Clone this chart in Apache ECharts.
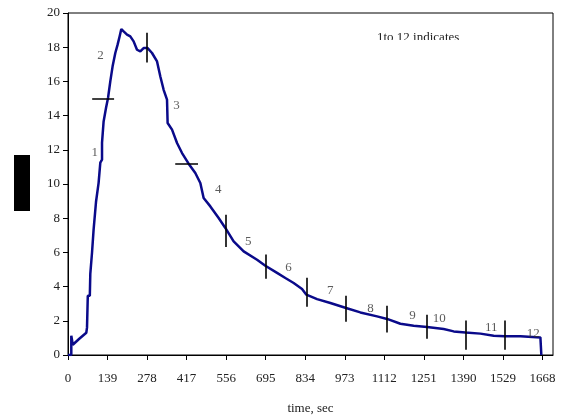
<!DOCTYPE html>
<html>
<head>
<meta charset="utf-8">
<script src="https://cdn.jsdelivr.net/npm/echarts@6/dist/echarts.min.js"></script>
<style>
  html, body { margin: 0; padding: 0; background: #fff; }
  #main { width: 562px; height: 417px; }
</style>
</head>
<body>
<div id="main"></div>
<script>
// time axis tick labels
var xTicks = [0, 139, 278, 417, 556, 695, 834, 973, 1112, 1251, 1390, 1529, 1668];

var timeSec = [0, 11.6, 11.6, 16.9, 39.7, 64.3, 66.8, 69.6, 76.7, 78.4, 83.7, 84.4, 89, 90, 97,
    98.5, 104.8, 107.6, 112.9, 113.6, 119.6, 119.6, 125.2, 133.6, 140.7, 148.7, 156.8, 166.3,
    174.4, 181.4, 187.4, 195.5, 207.5, 219, 230.7, 242.6, 254.2, 265.8, 279.9, 295.4, 313,
    324.6, 336.2, 348.1, 350.2, 365.7, 383.3, 400.9, 424, 447.6, 465.2, 476.8, 500.4, 529.6,
    553.1, 582.3, 617.5, 664.6, 693.8, 734.9, 764.1, 793.3, 822.8, 838, 875.6, 922.3, 977.5,
    1027.8, 1086.5, 1121.7, 1168.5, 1215.2, 1262.3, 1320.7, 1355.9, 1397, 1449.8, 1496.5,
    1535.2, 1590.4, 1660.7, 1664, 1664];
var signal = [0, 0, 1.13, 0.6, 0.95, 1.3, 1.6, 3.47, 3.47, 4.75, 4.75, 5.98, 5.98, 7.33, 7.33,
    8.96, 8.96, 10.07, 10.07, 11.25, 11.42, 12.42, 13.66, 14.44, 15.03, 16.0, 16.88, 17.66,
    18.15, 18.63, 19.06, 18.92, 18.73, 18.63, 18.34, 17.85, 17.75, 17.95, 17.95, 17.66, 17.17,
    16.29, 15.51, 14.93, 13.57, 13.18, 12.4, 11.81, 11.19, 10.64, 10.06, 9.18, 8.69, 8.01,
    7.43, 6.64, 6.06, 5.57, 5.22, 4.80, 4.5, 4.21, 3.86, 3.53, 3.27, 3.04, 2.75,
    2.49, 2.26, 2.11, 1.83, 1.71, 1.64, 1.52, 1.38, 1.32, 1.25, 1.13,
    1.09, 1.09, 1.03, 1.03, 0];

// vertical segment boundaries
var vMarkX    = [278, 556, 695, 838, 977, 1120, 1260, 1397, 1535];
var vMarkLow  = [17.1, 6.32, 4.46, 2.82, 1.95, 1.32, 0.95, 0.31, 0.31];
var vMarkHigh = [18.84, 8.2, 5.87, 4.52, 3.47, 2.88, 2.36, 2.02, 2.02];

// horizontal segment boundaries
var hMarkY  = [15, 11.18];
var hMarkX0 = [85, 377];
var hMarkX1 = [162, 457];

// segment numbers
var segNames = ['1', '2', '3', '4', '5', '6', '7', '8', '9', '10', '11', '12'];
var segX = [94, 114, 381, 528, 634, 775, 922, 1063, 1211, 1305, 1488, 1636];
var segY = [11.83, 17.5, 14.6, 9.67, 6.65, 5.1, 3.76, 2.7, 2.3, 2.12, 1.6, 1.25];

var curve = [];
for (var i in timeSec) {
    curve[i] = [timeSec[i], signal[i]];
}

var marks = [];
for (var i in vMarkX) {
    marks.push({coords: [[vMarkX[i], vMarkLow[i]], [vMarkX[i], vMarkHigh[i]]]});
}
for (var i in hMarkY) {
    marks.push({coords: [[hMarkX0[i], hMarkY[i]], [hMarkX1[i], hMarkY[i]]]});
}

var labels = [];
for (var i in segNames) {
    labels[i] = {value: [segX[i], segY[i]], name: segNames[i]};
}

var serif = 'Liberation Serif, Times New Roman, serif';

var chart = echarts.init(document.getElementById('main'));

var option = {
    animation: false,
    grid: {
        left: 68,
        top: 13,
        right: 9,
        bottom: 62,
        outerBoundsMode: 'none',
        containLabel: false,
        show: true,
        borderColor: '#000',
        borderWidth: 1
    },
    xAxis: {
        type: 'value',
        min: 0,
        max: 1705,
        name: 'time, sec',
        nameLocation: 'middle',
        nameGap: 47,
        nameTextStyle: { fontFamily: serif, fontSize: 13, color: '#222' },
        splitLine: { show: false },
        axisLine: { lineStyle: { color: '#000' } },
        axisTick: { show: true, length: 5, lineStyle: { color: '#000' }, customValues: xTicks },
        axisLabel: {
            customValues: xTicks,
            formatter: function (v) { return String(v); },
            margin: 17,
            fontFamily: serif,
            fontSize: 13,
            color: '#222'
        }
    },
    yAxis: {
        type: 'value',
        min: 0,
        max: 20,
        interval: 2,
        splitLine: { show: false },
        axisLine: { show: true, lineStyle: { color: '#000' } },
        axisTick: { show: true, length: 5, lineStyle: { color: '#000' } },
        axisLabel: { margin: 8, fontFamily: serif, fontSize: 13, color: '#222' }
    },
    series: [
        {
            name: 'signal',
            type: 'line',
            data: curve,
            symbol: 'none',
            lineStyle: { color: '#0a0a8a', width: 2.5 },
            z: 3
        },
        {
            type: 'lines',
            coordinateSystem: 'cartesian2d',
            data: marks,
            lineStyle: { color: '#000', width: 1.6, opacity: 1 },
            z: 4
        },
        {
            type: 'scatter',
            data: labels,
            symbolSize: 0,
            label: {
                show: true,
                position: 'inside',
                formatter: '{b}',
                fontFamily: serif,
                fontSize: 13,
                color: '#333'
            },
            z: 5
        }
    ],
    graphic: [
        {
            type: 'rect',
            left: 14,
            top: 155,
            shape: { width: 16, height: 56 },
            style: { fill: '#000' }
        },
        {
            type: 'text',
            left: 377,
            top: 31,
            style: { text: '1to 12 indicates', font: '13px ' + serif, fill: '#222' },
            z: 10
        },
        {
            type: 'rect',
            left: 370,
            top: 40,
            shape: { width: 115, height: 8 },
            style: { fill: '#fff' },
            z: 11
        }
    ]
};

chart.setOption(option, true);
</script>
</body>
</html>
